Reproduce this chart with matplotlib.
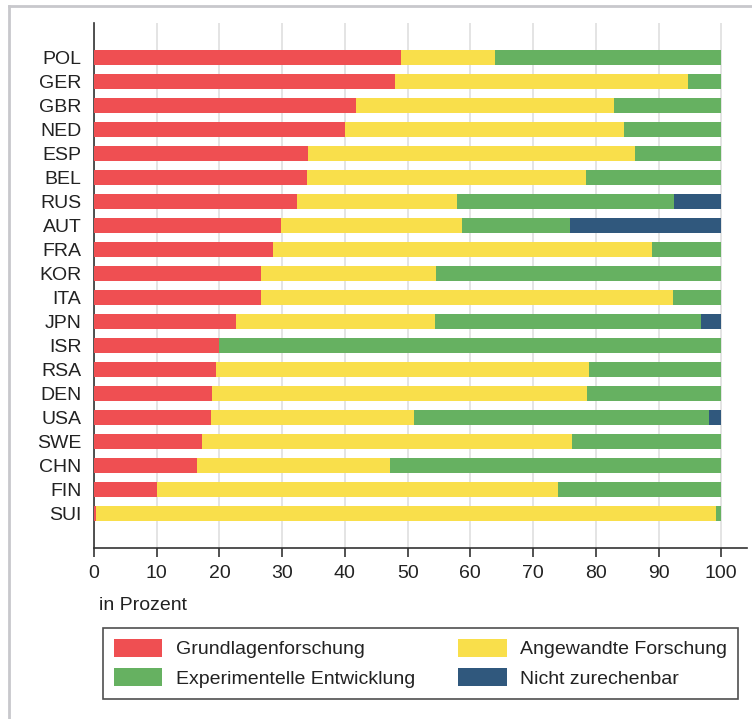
import numpy as np
import matplotlib
matplotlib.use('Agg')
import matplotlib.pyplot as plt
from matplotlib.lines import Line2D
from matplotlib.patches import Patch

plt.rcParams['font.family'] = ['Liberation Sans', 'DejaVu Sans']

# Data (percent shares per country)
countries = ['POL', 'GER', 'GBR', 'NED', 'ESP', 'BEL', 'RUS', 'AUT', 'FRA', 'KOR',
             'ITA', 'JPN', 'ISR', 'RSA', 'DEN', 'USA', 'SWE', 'CHN', 'FIN', 'SUI']
grundlagen = [49.0, 48.0, 41.8, 40.0, 34.1, 33.9, 32.4, 29.8, 28.5, 26.6,
              26.6, 22.6, 20.0, 19.5, 18.8, 18.7, 17.2, 16.4, 10.0, 0.3]
angewandt = [15.0, 46.7, 41.1, 44.5, 52.2, 44.6, 25.5, 28.9, 60.5, 27.9,
             65.7, 31.8, 0.0, 59.4, 59.8, 32.3, 59.0, 30.8, 64.0, 98.9]
experimentell = [36.0, 5.3, 17.1, 15.5, 13.7, 21.5, 34.6, 17.2, 11.0, 45.5,
                 7.7, 42.3, 80.0, 21.1, 21.4, 47.0, 23.8, 52.8, 26.0, 0.8]
nicht_zurechenbar = [0.0, 0.0, 0.0, 0.0, 0.0, 0.0, 7.5, 24.1, 0.0, 0.0,
                     0.0, 3.3, 0.0, 0.0, 0.0, 2.0, 0.0, 0.0, 0.0, 0.0]

labels = ['Grundlagenforschung', 'Angewandte Forschung',
          'Experimentelle Entwicklung', 'Nicht zurechenbar']
colors = ['#EF4F52', '#F9DF4B', '#66B161', '#30587D']
series = [grundlagen, angewandt, experimentell, nicht_zurechenbar]

W, H = 752, 719
fig = plt.figure(figsize=(W / 100, H / 100), dpi=100)
ax = fig.add_axes([94 / W, 1 - 548 / H, (747 - 94) / W, (548 - 23) / H])

y = np.arange(len(countries))
left = np.zeros(len(countries))
for vals, col, lab in zip(series, colors, labels):
    ax.barh(y, vals, left=left, height=0.625, color=col, label=lab,
            linewidth=0, zorder=3)
    left += np.array(vals)

ax.set_yticks(y)
ax.set_yticklabels(countries)
ax.set_ylim(19 + 1.46, -1.46)
ax.set_xlim(0, 104.1)
ax.set_xticks(np.arange(0, 101, 10))

ax.grid(axis='x', color='#e4e4e4', linewidth=1.4, zorder=0)
for s in ['top', 'right']:
    ax.spines[s].set_visible(False)
for s in ['left', 'bottom']:
    ax.spines[s].set_color('#333333')
    ax.spines[s].set_linewidth(1.2)

ax.tick_params(axis='y', length=0, pad=9, labelsize=14, labelcolor='#222222')
ax.tick_params(axis='x', length=6.5, width=1.2, color='#333333', pad=6,
               labelsize=14, labelcolor='#222222')

ax.text(99 / W, 1 - 605 / H, 'in Prozent', transform=fig.transFigure,
        ha='left', va='center', fontsize=14, color='#222222')

# legend: columns filled top-down
order = [0, 2, 1, 3]
handles = [Patch(facecolor=colors[i], edgecolor='none') for i in order]
leg = fig.legend(handles, [labels[i] for i in order], ncol=2,
                 loc='upper left',
                 bbox_to_anchor=(103 / W, 1 - 698 / H, (738 - 103) / W, (698 - 628) / H),
                 mode='expand', fontsize=14, frameon=True, fancybox=False,
                 handlelength=2.5, handleheight=1.05, handletextpad=0.7,
                 labelspacing=0.52, borderpad=0.55, borderaxespad=0)
leg.get_frame().set_edgecolor('#222222')
leg.get_frame().set_linewidth(1.2)
for t in leg.get_texts():
    t.set_color('#222222')

# light frame around the figure (top and left)
fig.add_artist(Line2D([9 / W, 9 / W], [0, 1 - 6 / H], color='#c8c8cc',
                      linewidth=2, transform=fig.transFigure))
fig.add_artist(Line2D([9 / W, 1], [1 - 6 / H, 1 - 6 / H], color='#c8c8cc',
                      linewidth=2, transform=fig.transFigure))

fig.savefig('out.png', dpi=100)
